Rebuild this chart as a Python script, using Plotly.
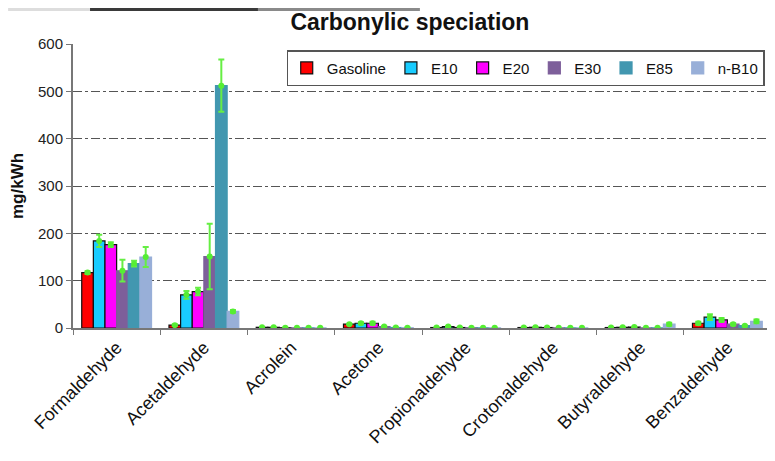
import plotly.graph_objects as go

categories = ["Formaldehyde", "Acetaldehyde", "Acrolein", "Acetone",
              "Propionaldehyde", "Crotonaldehyde", "Butyraldehyde", "Benzaldehyde"]
series_names = ["Gasoline", "E10", "E20", "E30", "E85", "n-B10"]

gasoline = [117, 6, 1.5, 8, 1, 1, 1, 10]
e10      = [184, 70, 1.5, 10, 3, 1.5, 1.5, 23]
e20      = [176, 77, 0.5, 10, 1, 1, 2, 17]
e30      = [121, 151, 0.3, 3, 0.5, 0.3, 0.3, 8]
e85      = [136, 512, 0.3, 1, 0.3, 0.3, 0.3, 5]
nb10     = [150, 35, 0.3, 0.5, 0.3, 0.3, 8, 14]

gasoline_err = [3, 2, 0.5, 1, 0.5, 0.5, 0.5, 3]
e10_err      = [13, 8, 0.5, 2, 1, 0.5, 0.5, 6]
e20_err      = [5, 8, 0.3, 3, 0.5, 0.5, 0.5, 4]
e30_err      = [23, 69, 0.2, 1, 0.2, 0.2, 0.2, 2]
e85_err      = [6, 55, 0.2, 0.5, 0.2, 0.2, 0.2, 1]
nb10_err     = [21, 3, 0.2, 0.3, 0.2, 0.2, 3, 4]

values = [gasoline, e10, e20, e30, e85, nb10]
errors = [gasoline_err, e10_err, e20_err, e30_err, e85_err, nb10_err]
colors = ["#FF0000", "#19CCFF", "#FF00FF", "#7D5F9A", "#4297B0", "#98AFD8"]
outlines = ["#111111", "#111111", "#111111", "#7D5F9A", "#4297B0", "#98AFD8"]

fig = go.Figure()
for i, name in enumerate(series_names):
    fig.add_trace(go.Bar(
        x=categories, y=values[i], name=name,
        marker=dict(color=colors[i], line=dict(color=outlines[i], width=1.2)),
        offsetgroup=str(i), legendgroup=name,
    ))
for i, name in enumerate(series_names):
    fig.add_trace(go.Scatter(
        x=categories, y=values[i], mode="markers",
        marker=dict(color="#55EE33", size=6),
        error_y=dict(type="data", array=errors[i], color="#66EE44", thickness=2, width=3),
        offsetgroup=str(i), showlegend=False, legendgroup=name,
        hoverinfo="skip",
    ))

fig.update_layout(
    width=767, height=453,
    margin=dict(l=65, r=4, t=36, b=133, autoexpand=False),
    paper_bgcolor="white", plot_bgcolor="white",
    barmode="group", bargap=0.2, bargroupgap=0,
    scattermode="group", scattergap=0.2,
    font=dict(family="Liberation Sans, Arial, sans-serif", color="#111111"),
    title=dict(text="<b>Carbonylic speciation</b>", x=0.524, xanchor="center",
               y=0.97, yanchor="middle", yref="container",
               font=dict(size=23, color="#111111")),
    legend=dict(orientation="h", x=0.991, xanchor="right", y=0.915, yanchor="middle",
                bgcolor="white", bordercolor="#555555", borderwidth=1.5,
                font=dict(size=15, color="#111111"),
                itemwidth=30, tracegroupgap=0),
    xaxis=dict(type="category", showline=True, linecolor="#777777", linewidth=2,
               ticks="outside", ticklen=5, tickcolor="#777777", tickson="boundaries",
               tickangle=-45, tickfont=dict(size=18, color="#111111"),
               showgrid=False, zeroline=False, range=[-0.5, 7.5], automargin=False),
    yaxis=dict(range=[0, 600], dtick=100, showline=True, linecolor="#777777", linewidth=2,
               ticks="outside", ticklen=5, tickcolor="#777777",
               tickfont=dict(size=15, color="#222222"),
               showgrid=True, gridcolor="#555555", griddash="dashdot", gridwidth=1,
               zeroline=False, automargin=False,
               title=dict(text="<b>mg/kWh</b>", font=dict(size=17, color="#111111"), standoff=12)),
    shapes=[
        dict(type="line", xref="paper", yref="paper", x0=1, x1=1, y0=0, y1=1,
             line=dict(color="#222222", width=2)),
        dict(type="rect", xref="paper", yref="paper", x0=-0.093, x1=0.0244, y0=1.116, y1=1.127,
             fillcolor="#DDDDDD", line=dict(width=0)),
        dict(type="rect", xref="paper", yref="paper", x0=0.0244, x1=0.265, y0=1.116, y1=1.127,
             fillcolor="#3A3A3A", line=dict(width=0)),
        dict(type="rect", xref="paper", yref="paper", x0=0.265, x1=0.497, y0=1.116, y1=1.127,
             fillcolor="#8A8A8A", line=dict(width=0)),
    ],
)

fig.write_html("out.html")
